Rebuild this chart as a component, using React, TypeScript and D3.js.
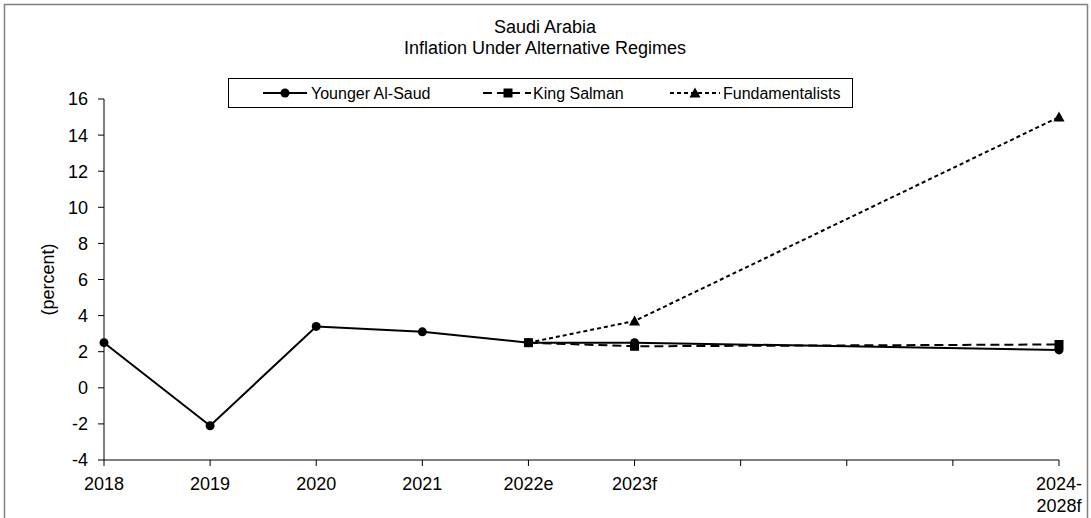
import React from "react";
import * as d3 from "d3";

// Category labels along the x axis (blank slots are unlabeled years inside the 2024-2028 window)
const categories: string[] = ["2018", "2019", "2020", "2021", "2022e", "2023f", "", "", "", "2024-\n2028f"];

// Inflation, percent; null where a series has no value
const youngerAlSaud: (number | null)[] = [2.5, -2.1, 3.4, 3.1, 2.5, 2.5, null, null, null, 2.1];
const kingSalman: (number | null)[] = [null, null, null, null, 2.5, 2.3, null, null, null, 2.4];
const fundamentalists: (number | null)[] = [null, null, null, null, 2.5, 3.7, null, null, null, 15.0];

const yTicks: number[] = [-4, -2, 0, 2, 4, 6, 8, 10, 12, 14, 16];

const titleLines = ["Saudi Arabia", "Inflation Under Alternative Regimes"];
const yLabel = "(percent)";

const FONT = "'Liberation Sans', Arial, sans-serif";

type Pt = { i: number; v: number };

function points(values: (number | null)[]): Pt[] {
  return values
    .map((v, i) => ({ i, v }))
    .filter((p): p is Pt => p.v !== null);
}

function Marker({ kind, x, y }: { kind: string; x: number; y: number }) {
  if (kind === "circle") return <circle cx={x} cy={y} r={4.5} fill="#000" />;
  if (kind === "square") return <rect x={x - 4.5} y={y - 4.5} width={9} height={9} fill="#000" />;
  const s = 5.5;
  return <path d={`M${x},${y - s}L${x + s},${y + s * 0.8}L${x - s},${y + s * 0.8}Z`} fill="#000" />;
}

export default function App() {
  const width = 1091;
  const height = 518;
  const left = 104;
  const right = 1059;
  const top = 99;
  const bottom = 460;

  const x = d3
    .scalePoint<number>()
    .domain(categories.map((_, i) => i))
    .range([left, right]);
  const y = d3.scaleLinear().domain([-4, 16]).range([bottom, top]);

  const line = d3
    .line<Pt>()
    .x((d) => x(d.i) as number)
    .y((d) => y(d.v));

  const series = [
    { name: "Younger Al-Saud", data: youngerAlSaud, dash: "none", marker: "circle", skipFirstMarker: false },
    { name: "King Salman", data: kingSalman, dash: "9,5", marker: "square", skipFirstMarker: false },
    { name: "Fundamentalists", data: fundamentalists, dash: "4,3", marker: "triangle", skipFirstMarker: true },
  ];

  // legend layout: sample line start, marker x, sample end, text start
  const legendItems = [
    { s: series[0], x0: 263, xm: 285, x1: 307, tx: 311 },
    { s: series[1], x0: 483, xm: 508, x1: 531, tx: 533 },
    { s: series[2], x0: 670, xm: 695, x1: 720, tx: 723 },
  ];

  return (
    <svg
      width={width}
      height={height}
      style={{ display: "block", position: "absolute", left: 0, top: 0, background: "#fff" }}
      fontFamily={FONT}
    >
      <rect x={0} y={0} width={width} height={height} fill="#fff" />
      <rect x={4.5} y={4.5} width={1083} height={530} fill="none" stroke="#808080" strokeWidth={1.5} />

      {titleLines.map((t, k) => (
        <text key={k} x={545} y={33 + k * 21} textAnchor="middle" fontSize={18} fill="#000">
          {t}
        </text>
      ))}

      {/* y axis */}
      <line x1={left} x2={left} y1={top} y2={bottom} stroke="#000" strokeWidth={1} />
      {yTicks.map((t) => (
        <g key={t}>
          <line x1={left - 6} x2={left} y1={y(t)} y2={y(t)} stroke="#000" />
          <text x={88} y={y(t)} dy="0.36em" textAnchor="end" fontSize={18} fill="#000">
            {t}
          </text>
        </g>
      ))}
      <text
        transform={`translate(54,${(top + bottom) / 2}) rotate(-90)`}
        textAnchor="middle"
        fontSize={18}
        fill="#000"
      >
        {yLabel}
      </text>

      {/* x axis */}
      <line x1={left} x2={right} y1={bottom} y2={bottom} stroke="#000" strokeWidth={1} />
      {categories.map((c, i) => (
        <g key={i}>
          <line x1={x(i)} x2={x(i)} y1={bottom} y2={bottom + 6} stroke="#000" />
          {c.split("\n").map((part, k) => (
            <text key={k} x={x(i)} y={490 + k * 22} textAnchor="middle" fontSize={18} fill="#000">
              {part}
            </text>
          ))}
        </g>
      ))}

      {/* series, drawn last-to-first so the solid line sits on top */}
      {[...series].reverse().map((s) => {
        const pts = points(s.data);
        return (
          <g key={s.name}>
            <path d={line(pts) || ""} fill="none" stroke="#000" strokeWidth={2} strokeDasharray={s.dash} />
          </g>
        );
      })}
      {series.map((s) => {
        const pts = points(s.data);
        return (
          <g key={s.name + "-m"}>
            {pts.map((p, k) =>
              s.skipFirstMarker && k === 0 ? null : (
                <Marker key={k} kind={s.marker} x={x(p.i) as number} y={y(p.v)} />
              )
            )}
          </g>
        );
      })}

      {/* legend */}
      <rect x={228.5} y={78.5} width={624} height={29} fill="#fff" stroke="#000" strokeWidth={1} />
      {legendItems.map((it) => (
        <g key={it.s.name}>
          <line x1={it.x0} x2={it.x1} y1={93} y2={93} stroke="#000" strokeWidth={2} strokeDasharray={it.s.dash} />
          <Marker kind={it.s.marker} x={it.xm} y={93} />
          <text x={it.tx} y={93} dy="0.36em" fontSize={16} fill="#000">
            {it.s.name}
          </text>
        </g>
      ))}
    </svg>
  );
}
